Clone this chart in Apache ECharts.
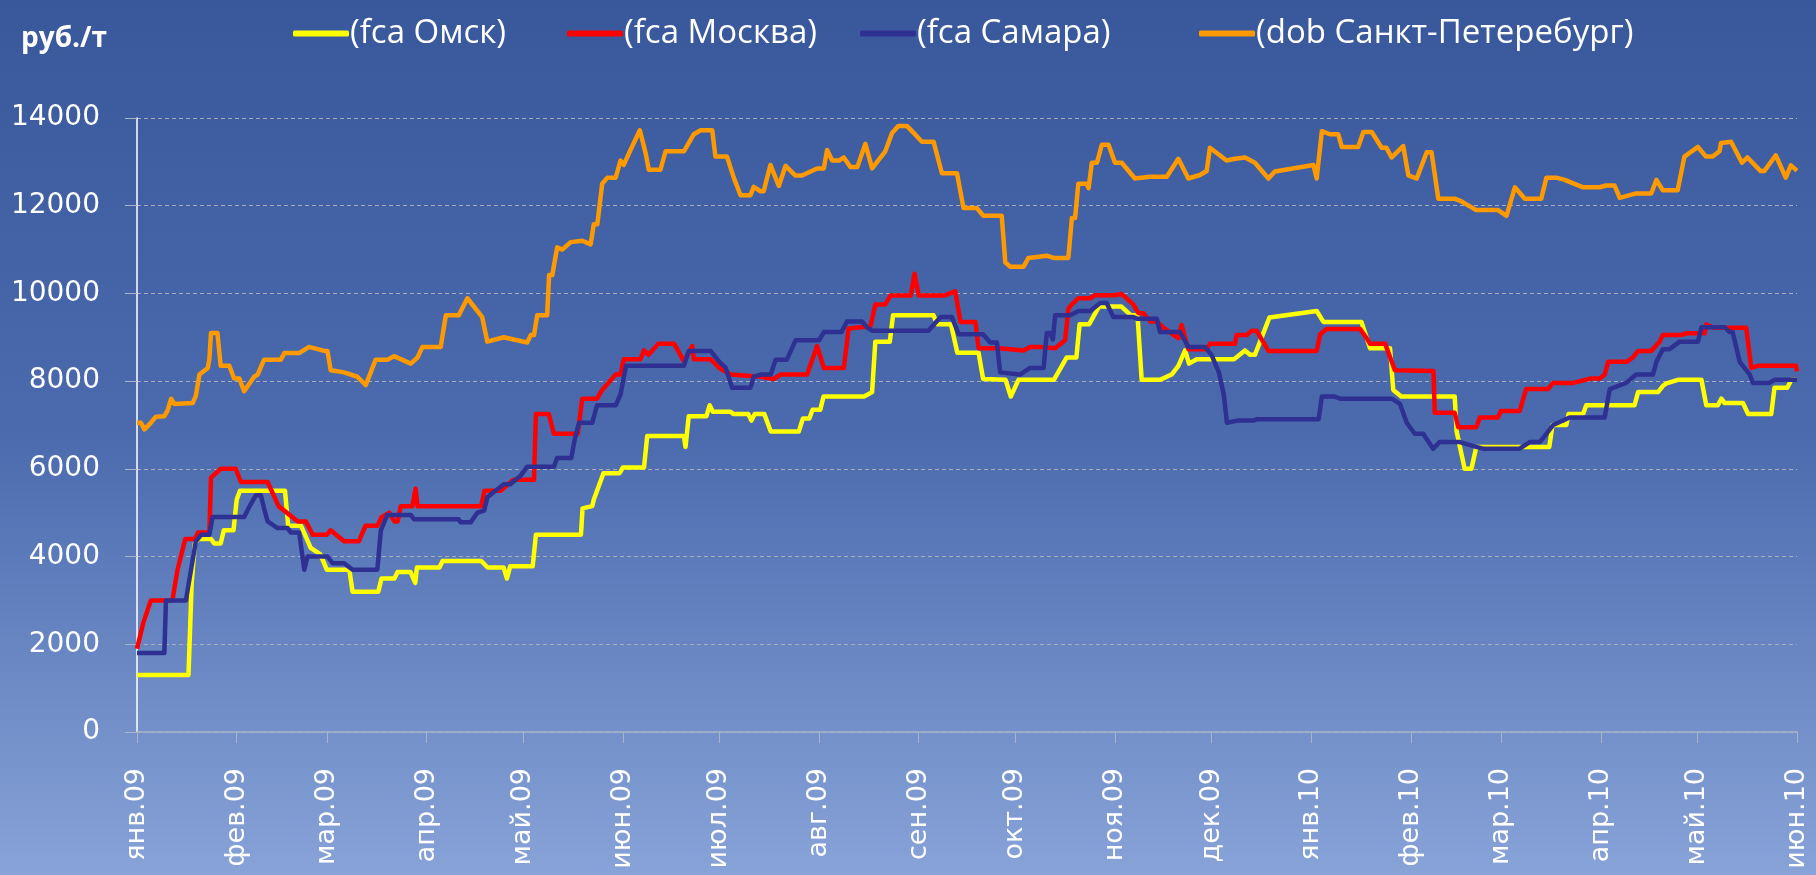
<!DOCTYPE html>
<html>
<head>
<meta charset="utf-8">
<title>Цены</title>
<script src="https://cdn.jsdelivr.net/npm/echarts@6.0.0/dist/echarts.min.js"></script>
<style>
html, body { margin: 0; padding: 0; }
#chart { width: 1816px; height: 875px; }
</style>
</head>
<body>
<div id="chart"></div>
<script>
// x: days since 01.01.2009, y: руб./т
var monthLabels = ['янв.09','фев.09','мар.09','апр.09','май.09','июн.09','июл.09','авг.09','сен.09',
    'окт.09','ноя.09','дек.09','янв.10','фев.10','мар.10','апр.10','май.10','июн.10'];

var omsk = [[0,1300],[16,1300],[17,3400],[18,4300],[19,4400],[23,4400],[24,4300],[26,4300],[27,4600],[30,4600],[31,5300],[32,5500],[46,5500],[47,4700],[51,4700],[54,4200],[57,4050],[59,3700],[66,3700],[67,3200],[75,3200],[76,3500],[80,3500],[81,3650],[85,3650],[86.5,3400],[87,3750],[94,3750],[95,3900],[107,3900],[109,3750],[114,3750],[115,3500],[116,3780],[123,3780],[124,4500],
    [138,4500],[138.5,5100],[141.5,5150],[142,5300],[143,5500],[145,5900],[150,5900],[151,6030],[157.6,6030],[158.6,6750],[170,6750],[170.5,6500],[171.5,7200],[177,7200],[178,7450],[179,7300],[184.5,7300],[185.5,7250],[190,7250],[191,7100],[192,7250],[195,7250],[197,6850],[205.7,6850],[207,7150],[209,7150],[210,7350],[212.4,7350],[213.4,7650],[226,7650],[228.5,7750],[229.5,8900],[234,8900],[235,9500],[247.6,9500],[248.7,9300],[253,9300],[255,8650],[261.6,8650],[263,8050],
    [270,8030],[271.6,7650],[274,8030],[285,8030],[289,8540],[292,8540],[293,9300],[296,9300],[299,9700],[306,9700],[309,9500],[311,9500],[312.3,8030],[318,8030],[321.6,8150],[323.7,8350],[325.8,8700],[327,8400],[329.4,8500],[341,8500],[344.4,8700],[346,8600],[347.5,8600],[352,9450],[366.7,9600],[368.8,9350],[380.6,9350],[383.3,8750],[389.5,8750],[390.5,7800],[393,7650],
    [409.6,7650],[410.2,6850],[412.7,6000],[414.8,6000],[416.3,6500],[439,6500],[440,7000],[444.3,7000],[445,7250],[449.5,7250],[450.5,7450],[465.5,7450],[466.6,7750],[472.8,7750],[474.4,7900],[475.4,7950],[479,8030],[486.3,8030],[487.8,7450],[491.4,7450],[492.5,7600],[493.5,7500],[499.2,7500],[500.8,7250],[508,7250],[509,7850],[513,7850],[514.2,8030],[516,8030]];

var moscow = [[0,1900],[2,2500],[4.3,3000],[11,3000],[12.6,3700],[15,4400],[18,4400],[19,4550],[22.5,4550],[23,5800],[24.5,5900],[26,6000],[30.7,6000],[32.3,5700],[40.6,5700],[44,5150],[50,4800],[52.5,4800],[54.6,4500],[59,4500],[60.2,4600],[64.4,4350],[69,4350],[71,4700],[74.7,4700],[76,4900],[78.4,5000],[80,4800],[81,4800],[82,5150],[85.6,5150],[86.6,5550],[87.2,5150],[107,5150],[108,5500],[113,5500],[117,5750],[123.4,5750],[124,7250],[128,7250],[129.6,6800],
    [137,6800],[138.4,7600],[143,7600],[144.6,7800],[148.8,8150],[150.3,8150],[151.3,8500],[156.5,8500],[157.6,8700],[159,8600],[162,8850],[167,8850],[170,8450],[172.6,8800],[173.1,8500],[178.3,8500],[181,8300],[184.5,8150],[193.8,8100],[198,8050],[200,8150],[208.3,8150],[211.4,8800],[213.5,8300],[219.7,8300],[221.2,9200],[228,9250],[229.5,9750],[232.6,9750],[234.2,9950],[240.5,9950],[241.7,10450],[243,9950],[251,9950],[254.3,10050],[256,9350],[260.6,9350],[261.6,8750],
    [268,8750],[275.6,8700],[277.6,8780],[280.8,8780],[285.4,8750],[288.5,8930],[289.5,9650],[290.6,9750],[292.6,9890],[296.3,9890],[297.8,9960],[304,9960],[306,9990],[309.7,9750],[311.3,9550],[312.8,9550],[315,9360],[317,9360],[319,9220],[323.7,8980],[324.7,9280],[326.8,8730],[332.5,8730],[333.5,8850],[341.3,8850],[341.8,9050],[345,9050],[346.5,9150],[348,9150],[351.7,8690],[366.7,8690],[367.8,9070],[369.8,9190],[380.2,9190],[382.2,8980],[383.3,8850],[388,8850],[391,8250],
    [403,8230],[403.4,7280],[409.6,7280],[410.7,6950],[416.3,6950],[417.4,7170],[423,7170],[424,7320],[429.8,7320],[431.8,7820],[438.6,7820],[440.2,7960],[446.4,7960],[448,7990],[452,8060],[454.7,8060],[456.2,8150],[457.3,8440],[463,8440],[465,8540],[466.6,8690],[470.7,8690],[473.3,8900],[474.3,9050],[480,9050],[481.6,9090],[487.3,9090],[487.8,9290],[490,9220],[500.2,9220],[501.8,8300],[503.8,8350],[515.7,8350],[516,8220]];

var samara = [[0,1800],[8.5,1800],[9,3000],[15.2,3000],[16.8,3700],[18.3,4350],[20,4500],[22.5,4500],[23.5,4900],[33.3,4900],[35,5150],[37,5400],[38.5,5400],[39.5,5100],[40.6,4800],[43.7,4650],[46.8,4650],[47.8,4550],[50.4,4550],[52,3700],[53,4000],[59.2,4000],[60.8,3850],[64.4,3850],[67,3700],[74.7,3700],[75.8,4600],[77.8,4950],[85.1,4950],[86.1,4850],[100,4850],[100.6,4780],[103.7,4780],[105.8,5000],[107.9,5050],[108.9,5350],[114,5650],[116,5650],[119.3,5850],[121.3,6050],[129.6,6050],[130.6,6250],
    [135,6250],[136,6650],[137.4,7050],[141.5,7050],[143,7450],[148.8,7450],[150.3,7700],[152,8350],[170,8350],[171.5,8690],[178.3,8690],[181,8440],[183,8300],[185,7850],[190.7,7850],[191.7,8100],[193.8,8150],[197,8150],[198.5,8490],[202,8490],[204.7,8930],[212,8930],[213.5,9120],[219,9120],[220.7,9360],[225.4,9360],[227,9220],[228.5,9150],[246,9150],[249.8,9460],[253.3,9460],[255.4,9070],[263,9070],[265.2,8880],[267.3,8880],[268.3,8200],
    [274.5,8150],[277.6,8300],[281.8,8300],[282.8,9100],[283.8,9100],[284.7,8950],[285.4,9500],[290,9500],[292.7,9600],[296.3,9600],[299.4,9780],[301.4,9780],[303.5,9460],[309.7,9460],[311,9420],[317,9420],[318,9120],[324.2,9120],[326.8,8780],[332,8780],[334,8600],[336.3,8200],[337.8,7700],[338.8,7050],[342,7100],[347,7100],[348,7130],[367.3,7130],[368.3,7650],[372,7650],[374,7600],[390,7600],[392.6,7480],[394.7,7050],[397.2,6800],[399.8,6800],
    [402.9,6460],[404.9,6610],[411.2,6610],[416.3,6500],[418.4,6460],[429.8,6460],[432.9,6610],[436,6610],[437.6,6750],[440.2,7000],[445.3,7170],[456.2,7170],[457.8,7820],[462.9,7960],[466,8150],[471.2,8150],[472.3,8440],[474.3,8730],[476.4,8730],[479.5,8900],[485.2,8900],[486.3,9230],[493.5,9230],[495,9120],[496,9120],[498.2,8440],[501.3,8150],[502.3,7960],[507.5,7960],[509,8030],[516,8030]];

var spb = [[0,7050],[1.2,7050],[2.3,6900],[4.3,7050],[5.9,7190],[8.5,7200],[9.5,7330],[10.6,7600],[11.6,7480],[17.3,7500],[18.3,7670],[19.4,8150],[22,8300],[22.5,8500],[23,9100],[25,9100],[26,8350],[28.7,8350],[30.2,8060],[31.8,8060],[33.3,7770],[36.4,8100],[37.5,8150],[39.5,8490],[44.7,8490],[45.8,8640],[50.4,8640],[53.5,8780],[58.2,8690],[59.2,8690],[60.2,8250],[64.4,8200],[68.5,8100],[71.1,7910],[74.2,8490],[77.8,8490],[79.9,8570],[85.1,8400],[87.2,8540],[88.7,8780],[94.4,8780],[96,9500],[100,9500],[102.7,9890],[107.3,9460],[108.9,8900],[114,9000],[121.3,8880],[122.4,9050],[123.4,9050],[124.4,9500],[127.5,9500],[128.1,10420],[129.1,10420],[130.6,11050],[132.2,11000],[134.8,11170],
    [138.4,11200],[141,11120],[142,11580],[143.1,11580],[144.6,12500],[146.2,12640],[148.8,12640],[150.3,13030],[151.3,12930],[153.4,13270],[156.3,13720],[158.1,13200],[159.1,12820],[162.7,12820],[164.3,13240],[170,13240],[173.1,13630],[175.2,13720],[178.8,13720],[179.8,13120],[183.4,13120],[185.5,12640],[187.6,12240],[190.7,12240],[191.7,12430],[193.8,12330],[194.8,12330],[196.9,12930],[199.5,12450],[201.6,12910],[204.6,12690],[206.7,12690],[211.4,12850],[213.5,12850],[214.5,13270],[216.1,13030],[218.2,13030],[219.7,13100],[221.8,12880],[223.9,12880],[226.4,13410],[228.5,12850],[232.6,13240],[234.7,13660],[236.7,13820],[239.3,13820],[241.4,13660],[244,13460],[247.6,13460],[250.2,12740],[254.9,12740],[256.9,11950],[261,11950],[263.1,11770],
    [268.8,11770],[269.9,10710],[271.4,10610],[275.6,10610],[277.1,10810],[282.8,10860],[284.9,10810],[289.5,10810],[290.6,11720],[291.6,11720],[292.6,12500],[295.2,12500],[295.8,12400],[296.8,12980],[298.4,12980],[299.9,13390],[302,13390],[304,12980],[306.1,12980],[310.2,12620],[314.9,12660],[320.1,12660],[323.7,13070],[326.8,12620],[330.4,12700],[332.5,12790],[333.5,13320],[338.7,13030],[341.3,13070],[344.4,13100],[347.5,12980],[351.7,12620],[353.7,12780],[365.7,12930],[366.7,12620],[368.3,13700],[370.8,13630],[373.4,13630],[374.5,13340],[379.6,13340],[381.2,13680],[383.8,13680],[386.9,13320],[388.4,13320],[390,13100],[393.6,13360],[395.2,12690],[397.8,12620],[400.9,13220],
    [402.4,13220],[404.5,12160],[409.6,12160],[411.7,12100],[416.3,11900],[423.1,11900],[425.7,11770],[428.3,12420],[431.4,12160],[436.5,12160],[438.1,12640],[441.2,12640],[443.8,12590],[449.5,12420],[454.7,12420],[456.7,12460],[459.3,12460],[460.9,12180],[466,12280],[470.7,12280],[472.3,12590],[474.3,12350],[478.9,12350],[481,13120],[485.2,13340],[487.7,13120],[489.8,13120],[491.9,13240],[492.4,13430],[495.5,13460],[498.9,12980],[500.6,13100],[504.7,12790],[505.8,12790],[509.4,13150],[512.5,12640],[514.1,12920],[516,12800]];

var names = ['(fca Омск)', '(fca Москва)', '(fca Самара)', '(dob Санкт-Петеребург)'];
var colors = ['#ffff00', '#ff0000', '#2e3192', '#ff9900'];

var DAY = 86400000;
var start = new Date(2009, 0, 1).getTime();
// day number of the first day of every month
var monthDays = monthLabels.map(function (l, i) {
    return Math.round((new Date(2009, i, 1).getTime() - start) / DAY);
});

function monthLabel(val) {
    var i = monthDays.indexOf(Math.round(val));
    return i >= 0 ? monthLabels[i] : '';
}

var myChart = echarts.init(document.getElementById('chart'));

var legendLeft = [288, 562, 855, 1194];
var legends = names.map(function (n, i) {
    return {
        data: [n],
        left: legendLeft[i],
        top: 12,
        icon: 'roundRect',
        itemWidth: 56,
        itemHeight: 6,
        textStyle: { color: '#ffffff', fontFamily: 'Open Sans', fontSize: 33, padding: [0, 0, 0, -4] }
    };
});

var seriesData = [omsk, moscow, samara, spb];

var option = {
    animation: false,
    backgroundColor: {
        type: 'linear', x: 0, y: 0, x2: 0, y2: 1,
        colorStops: [
            { offset: 0, color: '#39589b' },
            { offset: 0.5, color: '#4b6bae' },
            { offset: 1, color: '#88a3d8' }
        ]
    },
    title: {
        text: 'руб./т',
        left: 16,
        top: 20,
        textStyle: { color: '#ffffff', fontFamily: 'Open Sans', fontWeight: 'bold', fontSize: 28 }
    },
    legend: legends,
    grid: {
        left: 137,
        right: 19,
        top: 118,
        bottom: 143
    },
    xAxis: {
        type: 'value',
        min: 0,
        max: monthDays[monthDays.length - 1],
        axisLine: { lineStyle: { color: '#a8b4c8', width: 1.5 } },
        axisTick: { show: true, customValues: monthDays, length: 11, lineStyle: { color: '#a8b4c8' } },
        splitLine: { show: false },
        axisLabel: {
            customValues: monthDays,
            rotate: 90,
            margin: 36,
            color: '#ffffff',
            fontFamily: 'DejaVu Sans',
            fontSize: 27,
            formatter: monthLabel
        }
    },
    yAxis: {
        type: 'value',
        min: 0,
        max: 14000,
        interval: 2000,
        axisLine: { show: true, lineStyle: { color: '#ffffff', width: 1.5 } },
        axisTick: { show: true, length: 12, lineStyle: { color: '#a8b4c8' } },
        splitLine: { show: true, lineStyle: { color: '#a6acb8', type: [4, 3], width: 1 } },
        axisLabel: {
            margin: 37,
            color: '#ffffff',
            fontFamily: 'DejaVu Sans',
            fontSize: 28,
            formatter: function (v) { return String(v); }
        }
    },
    series: seriesData.map(function (d, i) {
        return {
            name: names[i],
            type: 'line',
            data: d,
            showSymbol: false,
            symbol: 'none',
            color: colors[i],
            lineStyle: { width: 4.5, color: colors[i], join: 'round' }
        };
    })
};

myChart.setOption(option);
</script>
</body>
</html>
